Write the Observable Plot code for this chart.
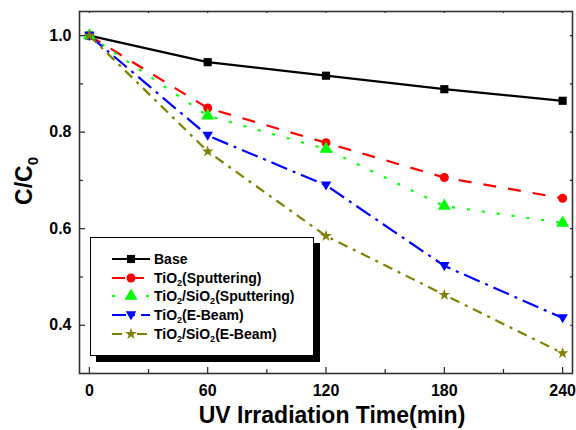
<!DOCTYPE html>
<html>
<head>
<meta charset="utf-8">
<script src="https://cdn.jsdelivr.net/npm/d3@7"></script>
<script src="https://cdn.jsdelivr.net/npm/@observablehq/plot@0.6"></script>
<style>
  html, body { margin: 0; padding: 0; background: #fff; }
  #wrap { position: relative; width: 576px; height: 430px; font-family: "Liberation Sans", Arial, sans-serif; font-weight: bold; }
  #legend { position: absolute; left: 90px; top: 237px; width: 222px; height: 117px; border: 1px solid #000; background: #fff; box-shadow: 6px 6px 0 #000; }
  .row { position: absolute; left: 0; height: 18px; display: flex; align-items: center; font-size: 14px; color: #000; white-space: nowrap; }
  .row svg { margin-left: 20px; margin-right: 3px; }
  sub { font-size: 9px; vertical-align: -3px; line-height: 0; }
</style>
</head>
<body>
<div id="wrap"></div>
<script>
// ---- data ----
const times = [0, 60, 120, 180, 240];
const base = [1.0, 0.945, 0.917, 0.889, 0.865];
const tio2Sput = [1.0, 0.850, 0.778, 0.706, 0.663];
const tio2SiO2Sput = [1.0, 0.834, 0.765, 0.647, 0.612];
const tio2EBeam = [1.0, 0.793, 0.690, 0.523, 0.415];
const tio2SiO2EBeam = [1.0, 0.760, 0.585, 0.463, 0.342];
const seriesNames = ["Base", "TiO2(Sputtering)", "TiO2/SiO2(Sputtering)", "TiO2(E-Beam)", "TiO2/SiO2(E-Beam)"];
const xMajor = [0, 60, 120, 180, 240];
const xMinor = [30, 90, 150, 210];
const yMajor = [0.4, 0.6, 0.8, 1.0];
const yMinor = [0.5, 0.7, 0.9];

// ---- styles ----
const triDown = {
  draw(ctx, size) {
    const t = Math.sqrt(size);
    ctx.moveTo(-0.62 * t, -0.45 * t);
    ctx.lineTo(0.62 * t, -0.45 * t);
    ctx.lineTo(0, 0.62 * t);
    ctx.closePath();
  }
};
const styles = [
  {color: "#000000", dash: null, legendDash: null, symbol: "square", r: 4.6},
  {color: "#ff0000", dash: "13,12", legendDash: "13,6", symbol: "circle", r: 4.5},
  {color: "#00ff00", dash: "3,12", legendDash: "3,14", symbol: "triangle", r: 4.8},
  {color: "#0000ff", dash: "17,6,3,6", legendDash: "14,6,3,6", symbol: triDown, r: 4.8},
  {color: "#808000", dash: "10,6,3,6", legendDash: "10,6,3,6", symbol: "star", r: 3.7}
];
const allValues = [base, tio2Sput, tio2SiO2Sput, tio2EBeam, tio2SiO2EBeam];
const series = allValues.map((vals, i) => times.map((t, j) => ({time: t, value: vals[j], name: seriesNames[i]})));

const W = 576, H = 430, mt = 11, mr = 4, mb = 57, ml = 79;
const pw = W - ml - mr, ph = H - mt - mb;

const marks = [];
// inward ticks
marks.push(Plot.tickX(xMajor, {x: d => d, insetTop: ph - 6, stroke: "#222", strokeWidth: 1.2}));
marks.push(Plot.tickX(xMinor, {x: d => d, insetTop: ph - 4, stroke: "#222", strokeWidth: 1.2}));
marks.push(Plot.tickX(xMajor.concat(xMinor), {x: d => d, insetBottom: ph - 2, stroke: "#222", strokeWidth: 1.2}));
marks.push(Plot.tickY(yMajor, {y: d => d, insetRight: pw - 6, stroke: "#222", strokeWidth: 1.2}));
marks.push(Plot.tickY(yMinor, {y: d => d, insetRight: pw - 4, stroke: "#222", strokeWidth: 1.2}));
marks.push(Plot.tickY(yMajor.concat(yMinor), {y: d => d, insetLeft: pw - 2, stroke: "#222", strokeWidth: 1.2}));
// axis labels
marks.push(Plot.axisX({ticks: xMajor, tickSize: 0, tickPadding: 11, tickFormat: d => String(d), fontSize: 16, fontWeight: "bold", label: null}));
marks.push(Plot.axisY({ticks: yMajor, tickSize: 0, tickPadding: 8, tickFormat: d3.format(".1f"), fontSize: 16, fontWeight: "bold", label: null}));
// lines & dots
series.forEach((data, i) => {
  const s = styles[i];
  marks.push(Plot.line(data, {x: "time", y: "value", stroke: s.color, strokeWidth: 2.2, strokeDasharray: s.dash, strokeLinecap: "butt"}));
});
series.forEach((data, i) => {
  const s = styles[i];
  marks.push(Plot.dot(data, {x: "time", y: "value", fill: s.color, stroke: "none", symbol: s.symbol, r: s.r}));
});
marks.push(Plot.frame({stroke: "#333", strokeWidth: 1.6}));

const chart = Plot.plot({
  width: W, height: H,
  marginTop: mt, marginRight: mr, marginBottom: mb, marginLeft: ml,
  style: {fontFamily: "'Liberation Sans', Arial, sans-serif", fontWeight: "bold", fontSize: "16px", color: "#000", background: "#fff"},
  x: {domain: [-5, 245], axis: null},
  y: {domain: [0.3, 1.05], axis: null},
  marks
});

const wrap = document.getElementById("wrap");
wrap.appendChild(chart);

// axis titles
const svg = d3.select(chart);
svg.append("text")
  .attr("x", 332).attr("y", 423)
  .attr("text-anchor", "middle")
  .attr("font-family", "'Liberation Sans', Arial, sans-serif")
  .attr("font-weight", "bold").attr("font-size", 23).attr("fill", "#000")
  .text("UV Irradiation Time(min)");
const yt = svg.append("text")
  .attr("transform", "translate(32,181) rotate(-90)")
  .attr("text-anchor", "middle")
  .attr("font-family", "'Liberation Sans', Arial, sans-serif")
  .attr("font-weight", "bold").attr("font-size", 23).attr("fill", "#000");
yt.append("tspan").text("C/C");
yt.append("tspan").attr("font-size", 15).attr("dy", 6).text("0");

// legend
const legendLabels = [
  "Base",
  "TiO<sub>2</sub>(Sputtering)",
  "TiO<sub>2</sub>/SiO<sub>2</sub>(Sputtering)",
  "TiO<sub>2</sub>(E-Beam)",
  "TiO<sub>2</sub>/SiO<sub>2</sub>(E-Beam)"
];
const legend = document.createElement("div");
legend.id = "legend";
wrap.appendChild(legend);
legendLabels.forEach((lab, i) => {
  const s = styles[i];
  const row = document.createElement("div");
  row.className = "row";
  row.style.top = (12 + i * 18.7) + "px";
  const sv = d3.create("svg").attr("width", 40).attr("height", 14);
  sv.append("line").attr("x1", 1).attr("x2", 39).attr("y1", 7).attr("y2", 7)
    .attr("stroke", s.color).attr("stroke-width", 2.2)
    .attr("stroke-dasharray", s.legendDash);
  const sym = typeof s.symbol === "string" ? ({square: d3.symbolSquare, circle: d3.symbolCircle, triangle: d3.symbolTriangle, star: d3.symbolStar})[s.symbol] : s.symbol;
  sv.append("path").attr("transform", "translate(20,7)")
    .attr("d", d3.symbol(sym, Math.PI * s.r * s.r)()).attr("fill", s.color);
  row.appendChild(sv.node());
  const span = document.createElement("span");
  span.innerHTML = lab;
  row.appendChild(span);
  legend.appendChild(row);
});
</script>
</body>
</html>
